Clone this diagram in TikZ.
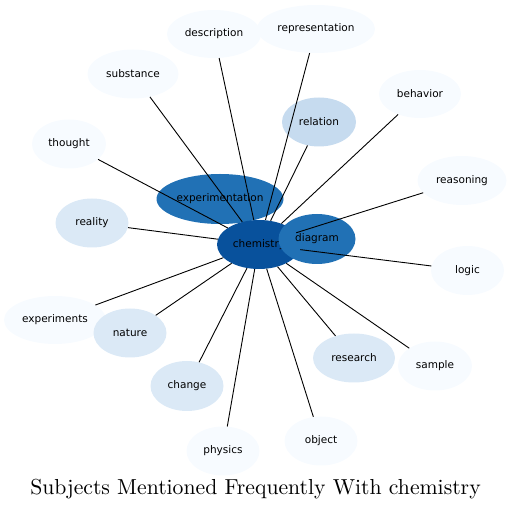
\documentclass[tikz,border=0pt]{standalone}
\usepackage{fontspec}
\newfontfamily\dejavu{DejaVu Sans}
\usetikzlibrary{shapes.geometric}
\definecolor{cA}{HTML}{F7FBFF}
\definecolor{cB}{HTML}{DBE9F6}
\definecolor{cC}{HTML}{C6DBEF}
\definecolor{cD}{HTML}{2171B5}
\definecolor{cE}{HTML}{08519C}
\tikzset{
  nd/.style={ellipse, inner sep=0pt, draw=none, font=\dejavu\fontsize{10.5}{12}\selectfont, text=black},
  edge/.style={draw=black, line width=0.9pt}
}
\begin{document}
\begin{tikzpicture}[x=1pt,y=-1pt]
\useasboundingbox (0,0) rectangle (512,510);
\node[nd, fill=cA, minimum width=94, minimum height=48] (description) at (214,34) {description};
\node[nd, fill=cA, minimum width=118, minimum height=48] (representation) at (316,29) {representation};
\node[nd, fill=cA, minimum width=91, minimum height=49] (substance) at (133,74) {substance};
\node[nd, fill=cA, minimum width=82, minimum height=48] (behavior) at (420,94) {behavior};
\node[nd, fill=cC, minimum width=74, minimum height=49] (relation) at (319,122) {relation};
\node[nd, fill=cA, minimum width=74, minimum height=49] (thought) at (69,144) {thought};
\node[nd, fill=cA, minimum width=89, minimum height=49] (reasoning) at (462,180.5) {reasoning};
\node[nd, fill=cD, minimum width=127, minimum height=50] (experimentation) at (220,199) {experimentation};
\node[nd, fill=cB, minimum width=73, minimum height=49] (reality) at (92,223) {reality};
\node[nd, fill=cE, minimum width=84, minimum height=49] (chemistry) at (259,244.5) {chemistry};
\node[nd, fill=cD, minimum width=77, minimum height=50] (diagram) at (317,239) {diagram};
\node[nd, fill=cA, minimum width=73, minimum height=49] (logic) at (467.5,270.5) {logic};
\node[nd, fill=cA, minimum width=102, minimum height=48] (experiments) at (55,320) {experiments};
\node[nd, fill=cB, minimum width=73, minimum height=49] (nature) at (130,333) {nature};
\node[nd, fill=cB, minimum width=73, minimum height=50] (change) at (187,386) {change};
\node[nd, fill=cB, minimum width=82, minimum height=49] (research) at (354,358) {research};
\node[nd, fill=cA, minimum width=74, minimum height=49] (sample) at (435,366) {sample};
\node[nd, fill=cA, minimum width=73, minimum height=49] (physics) at (223,451) {physics};
\node[nd, fill=cA, minimum width=73, minimum height=49] (object) at (321,441) {object};
\foreach \n in {description,representation,substance,behavior,relation,thought,reasoning,reality,logic,experiments,nature,change,research,sample,physics,object}
  \draw[edge] (chemistry) -- (\n);
\node[anchor=base, inner sep=0pt] (title) at (255.5,495) {\scalebox{2.17}{Subjects Mentioned Frequently With chemistry}};
\end{tikzpicture}
\end{document}
